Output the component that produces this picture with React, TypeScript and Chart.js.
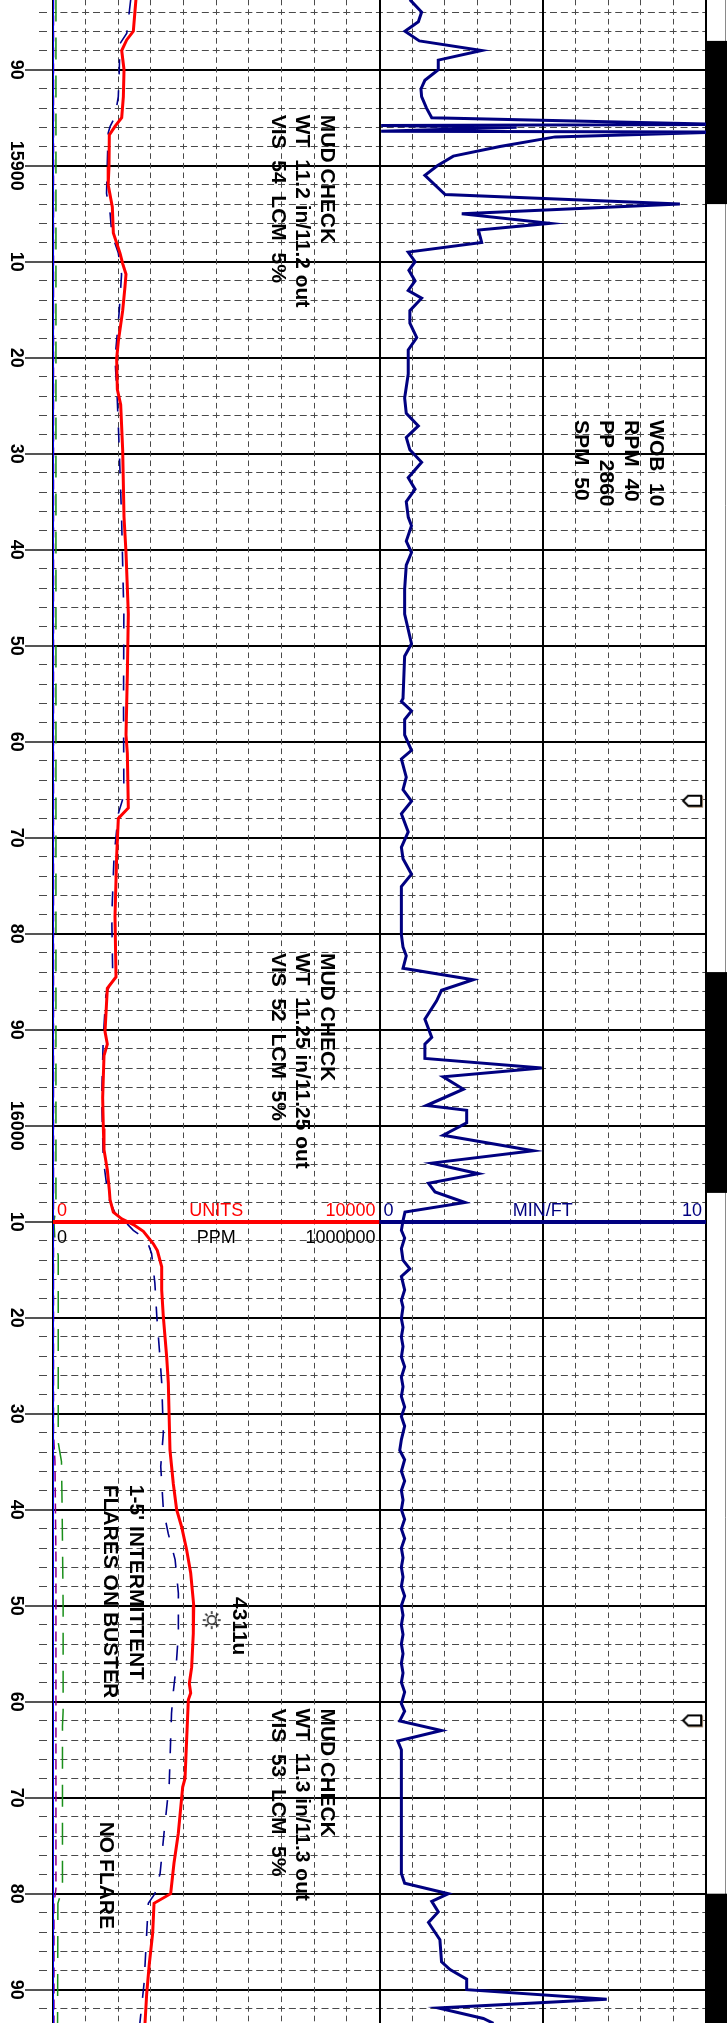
import React, { useEffect, useRef } from "react";
import { Chart, registerables } from "chart.js";

Chart.register(...registerables);

const FONT = "'Liberation Sans', Arial, Helvetica, sans-serif";
Chart.defaults.font.family = FONT;

// ---- depth window (ft) ----
const DEPTH_TOP = 15882.74;
const DEPTH_BOTTOM = 16093.47;

// ---- ROP (min/ft), right track ----
const ropDepth = [
  15882.7, 15884.0, 15885.0, 15886.0, 15887.0, 15888.0, 15889.0, 15890.0, 15891.1, 15892.0,
  15892.8, 15894.0, 15895.0, 15895.7, 15895.8, 15896.0, 15896.4, 15896.5, 15897.0, 15898.0,
  15899.0, 15900.0, 15901.0, 15903.0, 15904.0, 15905.0, 15906.0, 15906.7, 15908.0, 15909.0,
  15910.0, 15910.9, 15912.0, 15913.0, 15913.8, 15915.1, 15916.4, 15917.9, 15919.2, 15921.7,
  15924.2, 15925.8, 15927.1, 15928.3, 15929.6, 15930.9, 15932.5, 15933.7, 15935.0, 15936.6,
  15937.5, 15939.1, 15940.3, 15941.6, 15944.1, 15946.7, 15949.8, 15951.1, 15955.5, 15955.8,
  15956.8, 15957.7, 15959.3, 15960.9, 15961.8, 15963.7, 15965.0, 15966.2, 15967.5, 15969.4,
  15971.0, 15972.2, 15973.8, 15975.1, 15980.1, 15981.4, 15982.3, 15983.6, 15984.8, 15985.9,
  15987.0, 15988.9, 15990.8, 15991.5, 15993.0, 15994.0, 15994.9, 15996.2, 15997.9, 15998.4,
  15999.7, 16001.0, 16002.6, 16003.9, 16005.0, 16006.0, 16006.9, 16008.0, 16009.0, 16009.9,
  16010.9, 16011.7, 16012.8, 16014.0, 16014.9, 16015.7, 16017.1, 16018.2, 16018.9, 16020.1,
  16021.0, 16022.0, 16023.0, 16024.1, 16025.1, 16026.2, 16027.2, 16028.2, 16029.3, 16030.3,
  16031.3, 16032.7, 16033.8, 16034.8, 16036.0, 16037.0, 16038.0, 16039.0, 16040.0, 16041.0,
  16042.0, 16043.0, 16044.0, 16045.0, 16046.0, 16047.0, 16048.0, 16049.0, 16050.0, 16051.0,
  16052.0, 16053.0, 16054.0, 16055.0, 16056.0, 16057.0, 16058.0, 16059.0, 16060.2, 16061.0,
  16062.0, 16063.0, 16064.1, 16065.0, 16077.9, 16078.9, 16080.0, 16080.8, 16081.9, 16083.0,
  16084.8, 16087.1, 16087.9, 16088.9, 16090.0, 16091.0, 16091.9, 16093.0, 16093.5,
];
const ropMinFt = [
  0.93, 1.29, 1.19, 0.78, 1.22, 3.13, 1.80, 1.80, 1.39, 1.27,
  1.29, 1.44, 1.60, 10.4, 0.05, 4.20, 0.05, 10.4, 5.38, 3.69,
  2.26, 1.77, 1.39, 2.01, 9.20, 2.52, 5.22, 3.03, 3.13, 0.88,
  1.09, 0.90, 1.09, 0.88, 1.29, 0.93, 0.93, 1.14, 0.88, 0.88,
  0.77, 0.82, 1.19, 0.82, 0.93, 1.29, 0.88, 1.09, 0.82, 0.88,
  0.98, 0.82, 0.98, 0.82, 0.77, 0.77, 0.98, 0.77, 0.72, 0.67,
  0.98, 0.77, 0.77, 0.98, 0.67, 0.82, 0.72, 0.98, 0.67, 0.88,
  0.67, 0.72, 0.98, 0.67, 0.67, 0.72, 0.82, 0.72, 2.87, 1.90,
  1.75, 1.39, 1.60, 1.39, 1.39, 4.97, 1.95, 2.57, 1.44, 2.67,
  2.67, 1.95, 4.71, 1.60, 3.03, 1.50, 1.70, 2.62, 0.78, 0.72,
  0.67, 0.77, 0.67, 0.72, 0.93, 0.67, 0.77, 0.67, 0.72, 0.67,
  0.72, 0.67, 0.72, 0.67, 0.77, 0.67, 0.72, 0.67, 0.77, 0.67,
  0.77, 0.67, 0.62, 0.77, 0.67, 0.77, 0.67, 0.72, 0.67, 0.77,
  0.67, 0.77, 0.67, 0.72, 0.67, 0.72, 0.67, 0.77, 0.67, 0.72,
  0.67, 0.72, 0.67, 0.72, 0.67, 0.72, 0.67, 0.77, 0.67, 0.77,
  0.62, 1.90, 0.56, 0.67, 0.67, 0.77, 2.11, 1.60, 1.80, 1.50,
  1.85, 1.90, 2.16, 2.67, 2.67, 6.96, 1.80, 3.18, 3.49,
];

// ---- total gas (units), left track ----
const gasDepth = [
  15882.7, 15886.0, 15886.9, 15888.0, 15890.0, 15892.8, 15895.0, 15895.9, 15896.8, 15900.1,
  15902.0, 15904.3, 15907.0, 15909.1, 15910.2, 15911.3, 15912.6, 15915.1, 15918.3, 15920.1,
  15923.3, 15924.9, 15929.6, 15936.6, 15940.3, 15946.7, 15953.0, 15959.3, 15961.2, 15966.9,
  15968.0, 15971.9, 15978.2, 15984.5, 15985.7, 15990.2, 15991.5, 15992.7, 15997.1, 16000.3,
  16002.5, 16004.6, 16006.7, 16007.7, 16009.0, 16009.7, 16010.3, 16011.0, 16012.3, 16013.0,
  16014.7, 16017.1, 16019.9, 16024.1, 16026.8, 16033.8, 16037.3, 16040.0, 16041.8, 16044.2,
  16046.6, 16050.0, 16052.9, 16056.4, 16058.1, 16059.1, 16059.8, 16068.0, 16068.9, 16073.7,
  16076.8, 16080.0, 16081.0, 16084.1, 16087.3, 16090.4, 16093.5,
];
const gasUnits = [
  2540, 2460, 2257, 2104, 2175, 2155, 2104, 1899, 1725, 1715,
  1690, 1817, 1848, 2052, 2134, 2236, 2205, 2134, 2001, 1950,
  1970, 2073, 2134, 2175, 2236, 2307, 2277, 2236, 2277, 2307,
  2001, 1950, 1899, 1930, 1664, 1593, 1664, 1562, 1521, 1542,
  1562, 1664, 1725, 1746, 1848, 2104, 2460, 2767, 3073, 3196,
  3329, 3329, 3379, 3482, 3532, 3583, 3685, 3787, 3941, 4094,
  4217, 4311, 4297, 4247, 4175, 4217, 4145, 4043, 3972, 3838,
  3706, 3604, 3094, 3053, 2950, 2870, 2818,
];

// ---- gas in PPM (dashed), left track ----
const ppmDepth = [
  15882.7, 15886.2, 15887.3, 15890.0, 15892.8, 15894.9, 15895.9, 15896.6, 15900.1, 15902.9,
  15905.0, 15907.1, 15909.1, 15911.3, 15915.1, 15920.1, 15924.5, 15929.6, 15936.6, 15946.7,
  15956.1, 15965.6, 15967.5, 15971.9, 15978.2, 15984.5, 15986.4, 15990.8, 15997.1, 16003.5,
  16006.6, 16007.7, 16009.1, 16009.8, 16010.9, 16011.9, 16013.3, 16016.4, 16019.9, 16023.4,
  16026.8, 16032.0, 16035.5, 16040.0, 16042.5, 16045.2, 16048.7, 16052.9, 16056.4, 16059.1,
  16061.2, 16068.5, 16073.7, 16077.9, 16080.0, 16081.0, 16084.1, 16089.3, 16093.5,
];
const ppmValues = [
  238000, 226000, 205000, 203000, 200000, 190000, 175000, 169000, 166000, 164000,
  175000, 180000, 200000, 210000, 203000, 190000, 197000, 203000, 210000, 217000,
  216000, 217000, 200000, 187000, 180000, 183000, 162000, 154000, 149000, 154000,
  166000, 172000, 190000, 215000, 246000, 287000, 302000, 312000, 318000, 326000,
  333000, 338000, 330000, 338000, 353000, 374000, 384000, 384000, 377000, 368000,
  363000, 356000, 340000, 328000, 312000, 292000, 287000, 279000, 266000,
];

// ---- chromatograph components (PPM) ----
const c1Depth = [15882.7, 16008.5, 16010.0, 16012.0, 16013.5, 16033.0, 16035.0, 16040.0, 16050.0, 16061.0, 16062.5, 16079.5, 16081.0, 16093.5];
const c1Ppm = [9000, 9000, 3000, 6000, 16000, 16000, 26000, 28000, 31000, 31000, 29000, 29000, 15000, 14000];
const c2Depth = [15882.7, 16032.0, 16035.0, 16045.0, 16079.5, 16081.0, 16093.5];
const c2Ppm = [1500, 1500, 6000, 9000, 9000, 3000, 3000];
const c3Depth = [15882.7, 16030.0, 16040.0, 16093.5];
const c3Ppm = [200, 200, 1200, 1200];

// ---- symbols ----
const bitDepths = [15966.2, 16062.0];
const bitRop = [9.59, 9.59];
const peakDepths = [16051.5];
const peakUnits = [4861];

// ---- black interval column ----
const barTops = [15887.0, 15984.0, 16080.0];
const barBottoms = [15904.0, 16007.0, 16100.0];

// ---- scale header ----
const headerDepth = 16010;
const gasScaleLabels = ["0", "UNITS", "10000"];
const ppmScaleLabels = ["0", "PPM", "1000000"];
const ropScaleLabels = ["0", "MIN/FT", "10"];

// ---- remarks ----
const mudCheckDepths = [15894.7, 15982.0, 16060.7];
const mudCheckLines = [
  ["MUD CHECK", "WT  11.2 in/11.2 out", "VIS  54  LCM  5%"],
  ["MUD CHECK", "WT  11.25 in/11.25 out", "VIS  52  LCM  5%"],
  ["MUD CHECK", "WT  11.3 in/11.3 out", "VIS  53  LCM  5%"],
];
const paramDepth = 15926.5;
const paramLines = ["WOB  10", "RPM  40", "PP  2860", "SPM  50"];
const flareDepth = 16037.4;
const flareLines = ["1-5' INTERMITTENT", "FLARES ON BUSTER"];
const noFlareDepth = 16072.5;
const noFlareText = "NO FLARE";
const peakLabelDepth = 16049.1;
const peakLabel = "4311u";

const SOLID_X = [0, 10, 15, 20];

function pts(depths: number[], values: number[]) {
  return depths.map((d, i) => ({ x: values[i], y: d }));
}
function isMajor(v: number) {
  return Math.abs(v / 10 - Math.round(v / 10)) < 1e-6;
}
function isSolidX(v: number) {
  return SOLID_X.some((s) => Math.abs(s - v) < 1e-6);
}

function makeBitIcon() {
  const c = document.createElement("canvas");
  c.width = 23;
  c.height = 15;
  const g = c.getContext("2d") as CanvasRenderingContext2D;
  const path = (o: number) => {
    g.beginPath();
    g.moveTo(2 + o, 7 + o);
    g.lineTo(7 + o, 2 + o);
    g.lineTo(20 + o, 2 + o);
    g.lineTo(20 + o, 12 + o);
    g.lineTo(7 + o, 12 + o);
    g.closePath();
  };
  g.lineWidth = 2;
  g.strokeStyle = "#a89078";
  path(1);
  g.stroke();
  g.fillStyle = "#ffffff";
  g.strokeStyle = "#000000";
  path(0);
  g.fill();
  g.stroke();
  return c;
}

function makeSunIcon() {
  const c = document.createElement("canvas");
  c.width = 22;
  c.height = 22;
  const g = c.getContext("2d") as CanvasRenderingContext2D;
  g.strokeStyle = "#1a1a1a";
  g.lineWidth = 1.5;
  g.beginPath();
  g.arc(11, 11, 4.2, 0, Math.PI * 2);
  g.stroke();
  for (let k = 0; k < 8; k++) {
    const a = (k * Math.PI) / 4;
    g.beginPath();
    g.moveTo(11 + Math.cos(a) * 6, 11 + Math.sin(a) * 6);
    g.lineTo(11 + Math.cos(a) * 9, 11 + Math.sin(a) * 9);
    g.stroke();
  }
  return c;
}

function rotText(ctx: CanvasRenderingContext2D, text: string, x: number, y: number, font: string, color: string, align: CanvasTextAlign = "left") {
  ctx.save();
  ctx.translate(x, y);
  ctx.rotate(Math.PI / 2);
  ctx.font = font;
  ctx.fillStyle = color;
  ctx.textAlign = align;
  ctx.textBaseline = "middle";
  ctx.fillText(text, 0, 0);
  ctx.restore();
}

export default function App() {
  const ref = useRef<HTMLCanvasElement | null>(null);

  useEffect(() => {
    const canvas = ref.current;
    if (!canvas) return;
    const bitIcon = makeBitIcon();
    const sunIcon = makeSunIcon();

    const overlay: any = {
      id: "mudlogOverlay",
      afterDatasetsDraw(chart: any) {
        const ctx: CanvasRenderingContext2D = chart.ctx;
        const ys = chart.scales.y;
        const gx = chart.scales.xGas;
        const rx = chart.scales.xRop;
        const hy = Math.round(ys.getPixelForValue(headerDepth));
        const lx0 = gx.getPixelForValue(0);
        const lx1 = gx.getPixelForValue(10000);
        const rx0 = rx.getPixelForValue(0);
        const rx1 = rx.getPixelForValue(10);

        ctx.save();
        ctx.lineWidth = 4;
        ctx.strokeStyle = "#ff0000";
        ctx.beginPath();
        ctx.moveTo(lx0, hy);
        ctx.lineTo(lx1, hy);
        ctx.stroke();
        ctx.strokeStyle = "#000080";
        ctx.beginPath();
        ctx.moveTo(rx0, hy);
        ctx.lineTo(rx1, hy);
        ctx.stroke();

        ctx.font = `18px ${FONT}`;
        ctx.textBaseline = "alphabetic";
        const row = (labels: string[], a: number, b: number, y: number, color: string) => {
          ctx.fillStyle = color;
          ctx.textAlign = "left";
          ctx.fillText(labels[0], a + 4, y);
          ctx.textAlign = "center";
          ctx.fillText(labels[1], (a + b) / 2, y);
          ctx.textAlign = "right";
          ctx.fillText(labels[2], b - 4, y);
        };
        row(gasScaleLabels, lx0, lx1, hy - 6, "#ff0000");
        row(ppmScaleLabels, lx0, lx1, hy + 21, "#000000");
        row(ropScaleLabels, rx0, rx1, hy - 6, "#000080");
        ctx.restore();

        const bold = `bold 21px ${FONT}`;
        const mudX = [327, 302, 278];
        mudCheckDepths.forEach((d, i) => {
          const y = ys.getPixelForValue(d);
          mudCheckLines[i].forEach((t, j) => rotText(ctx, t, mudX[j], y, bold, "#000"));
        });
        const pY = ys.getPixelForValue(paramDepth);
        const pX = [656, 631, 606, 581];
        paramLines.forEach((t, j) => rotText(ctx, t, pX[j], pY, bold, "#000"));
        const fY = ys.getPixelForValue(flareDepth);
        rotText(ctx, flareLines[0], 136, fY, bold, "#000");
        rotText(ctx, flareLines[1], 110, fY, bold, "#000");
        rotText(ctx, noFlareText, 106, ys.getPixelForValue(noFlareDepth), bold, "#000");
        rotText(ctx, peakLabel, 239, ys.getPixelForValue(peakLabelDepth), bold, "#000");
      },
      afterDraw(chart: any) {
        const ctx: CanvasRenderingContext2D = chart.ctx;
        const ys = chart.scales.y;
        const area = chart.chartArea;
        ctx.save();
        ctx.strokeStyle = "#8a8a8a";
        ctx.lineWidth = 1;
        ctx.beginPath();
        ctx.moveTo(chart.width - 1.5, 0);
        ctx.lineTo(chart.width - 1.5, chart.height);
        ctx.stroke();
        ctx.fillStyle = "#000";
        const left = area.right + 1;
        barTops.forEach((t, i) => {
          const y1 = Math.max(0, ys.getPixelForValue(t));
          const y2 = Math.min(chart.height, ys.getPixelForValue(barBottoms[i]));
          if (y2 > y1) ctx.fillRect(left, y1, chart.width - left, y2 - y1);
        });
        ctx.restore();
        ys.ticks.forEach((tk: any) => {
          if (!isMajor(tk.value)) return;
          const v = Math.round(tk.value);
          const label = v % 100 === 0 ? String(v) : String(v % 100).padStart(2, "0");
          rotText(ctx, label, 15.5, ys.getPixelForValue(tk.value), `bold 18px ${FONT}`, "#000", "center");
        });
      },
    };

    const chart = new Chart(canvas, {
      type: "line",
      data: {
        datasets: [
          {
            label: "Total gas (units)",
            data: pts(gasDepth, gasUnits),
            xAxisID: "xGas",
            yAxisID: "y",
            borderColor: "#ff0000",
            borderWidth: 3,
            pointRadius: 0,
          },
          {
            label: "ROP (min/ft)",
            data: pts(ropDepth, ropMinFt),
            xAxisID: "xRop",
            yAxisID: "y",
            borderColor: "#000080",
            borderWidth: 3,
            pointRadius: 0,
          },
          {
            label: "Gas (PPM)",
            data: pts(ppmDepth, ppmValues),
            xAxisID: "xPpm",
            yAxisID: "y",
            borderColor: "#00008b",
            borderWidth: 1.6,
            borderDash: [15, 16],
            pointRadius: 0,
          },
          {
            label: "C3",
            data: pts(c3Depth, c3Ppm),
            xAxisID: "xPpm",
            yAxisID: "y",
            borderColor: "#0000ff",
            borderWidth: 1.5,
            pointRadius: 0,
          },
          {
            label: "C2",
            data: pts(c2Depth, c2Ppm),
            xAxisID: "xPpm",
            yAxisID: "y",
            borderColor: "#8b008b",
            borderWidth: 1.5,
            borderDash: [10, 6],
            pointRadius: 0,
          },
          {
            label: "C1",
            data: pts(c1Depth, c1Ppm),
            xAxisID: "xPpm",
            yAxisID: "y",
            borderColor: "#1a8f1a",
            borderWidth: 1.5,
            borderDash: [22, 16],
            pointRadius: 0,
          },
          {
            label: "Bit",
            data: pts(bitDepths, bitRop),
            xAxisID: "xRop",
            yAxisID: "y",
            showLine: false,
            pointStyle: bitIcon as any,
            pointRadius: 6,
          },
          {
            label: "Peak",
            data: pts(peakDepths, peakUnits),
            xAxisID: "xGas",
            yAxisID: "y",
            showLine: false,
            pointStyle: sunIcon as any,
            pointRadius: 6,
          },
        ] as any,
      },
      options: {
        animation: false,
        responsive: false,
        devicePixelRatio: 1,
        indexAxis: "y",
        events: [],
        layout: { autoPadding: false, padding: { left: 0, right: 21, top: 0, bottom: 0 } },
        plugins: { legend: { display: false }, tooltip: { enabled: false } },
        elements: { line: { tension: 0 }, point: { radius: 0 } },
        scales: {
          y: {
            type: "linear",
            position: "left",
            reverse: true,
            min: DEPTH_TOP,
            max: DEPTH_BOTTOM,
            afterFit: (s: any) => {
              s.width = 53;
            },
            ticks: { stepSize: 2, includeBounds: false, display: false },
            grid: {
              drawTicks: true,
              tickLength: 28,
              color: (c: any) => (c.tick && isMajor(c.tick.value) ? "#000" : "#4a4a4a"),
              lineWidth: (c: any) => (c.tick && isMajor(c.tick.value) ? 2 : 1),
              tickColor: (c: any) => (c.tick && isMajor(c.tick.value) ? "#555" : "#4a4a4a"),
              tickWidth: (c: any) => (c.tick && isMajor(c.tick.value) ? 2 : 1),
              tickBorderDash: (c: any) => (c.tick && isMajor(c.tick.value) ? [] : [0, 14, 8, 100]),
            },
            border: {
              display: true,
              color: "#000",
              width: 2,
              dash: (c: any) => (c.tick && !isMajor(c.tick.value) ? [7, 3.88] : []),
              dashOffset: 4.5,
            },
          },
          x: {
            type: "linear",
            position: "top",
            min: 0,
            max: 20,
            afterFit: (s: any) => {
              s.height = 0;
            },
            ticks: { stepSize: 1, display: false },
            grid: {
              drawTicks: false,
              color: (c: any) => (c.tick && isSolidX(c.tick.value) ? "#000" : "#4a4a4a"),
              lineWidth: (c: any) => (c.tick && isSolidX(c.tick.value) ? 2 : 1),
            },
            border: {
              display: false,
              dash: (c: any) => (c.tick && !isSolidX(c.tick.value) ? [5.6, 4] : []),
              dashOffset: (c: any) => {
                const ys = c.chart.scales.y;
                if (!ys || !ys.ticks || !ys.ticks.length) return 0;
                const p = ys.getPixelForValue(ys.ticks[0].value);
                const per = 9.6;
                return (((2.8 - p) % per) + per) % per;
              },
            },
          },
          xGas: { type: "linear", display: false, min: 0, max: 20000 },
          xPpm: { type: "linear", display: false, min: 0, max: 2000000 },
          xRop: { type: "linear", display: false, min: -10, max: 10 },
        },
      } as any,
      plugins: [overlay],
    });

    return () => chart.destroy();
  }, []);

  return (
    <div style={{ position: "absolute", left: 0, top: 0, width: 727, height: 2023 }}>
      <canvas ref={ref} width={727} height={2023} style={{ display: "block" }} />
    </div>
  );
}
